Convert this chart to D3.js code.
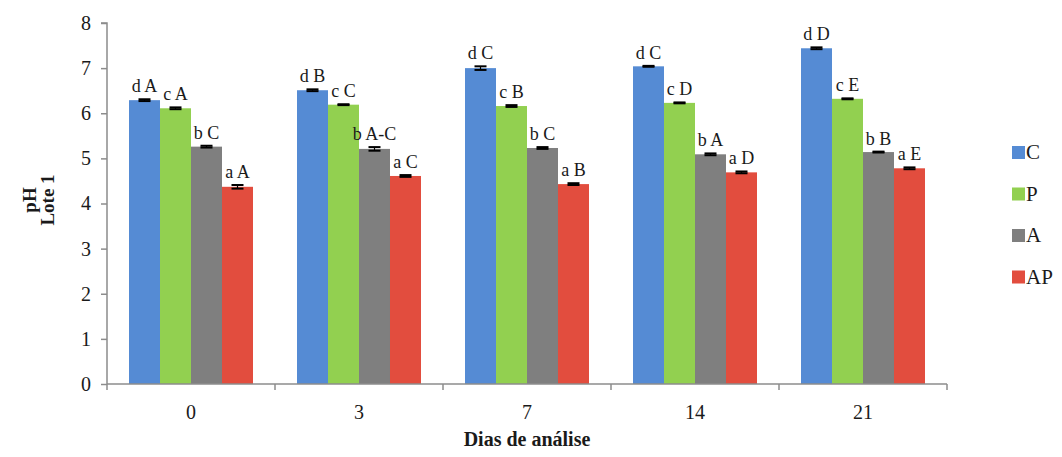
<!DOCTYPE html>
<html>
<head>
<meta charset="utf-8">
<script src="https://cdn.jsdelivr.net/npm/d3@7"></script>
<style>
  html, body { margin: 0; padding: 0; background: #fff; }
  svg { display: block; }
  svg text { font-family: "Liberation Serif", "Times New Roman", serif; }
</style>
</head>
<body>
<svg id="chart" width="1062" height="457"></svg>
<script>
// Days of analysis (x categories) and treatment series
const days = ["0", "3", "7", "14", "21"];
const series = ["C", "P", "A", "AP"];
const colors = ["#558bd4", "#92d050", "#7f7f7f", "#e24d3e"];

// pH means per series, one value per day
const valuesC  = [6.29, 6.51, 7.00, 7.04, 7.44];
const valuesP  = [6.11, 6.19, 6.16, 6.23, 6.32];
const valuesA  = [5.26, 5.21, 5.23, 5.09, 5.14];
const valuesAP = [4.37, 4.61, 4.43, 4.69, 4.78];

// standard deviations
const errC  = [0.02, 0.02, 0.04, 0.01, 0.02];
const errP  = [0.02, 0.01, 0.02, 0.01, 0.01];
const errA  = [0.02, 0.04, 0.02, 0.02, 0.01];
const errAP = [0.04, 0.02, 0.02, 0.02, 0.02];

// significance letters
const lettersC  = ["d A", "d B", "d C", "d C", "d D"];
const lettersP  = ["c A", "c C", "c B", "c D", "c E"];
const lettersA  = ["b C", "b A-C", "b C", "b A", "b B"];
const lettersAP = ["a A", "a C", "a B", "a D", "a E"];

const yTicks = [0, 1, 2, 3, 4, 5, 6, 7, 8];

const values = [valuesC, valuesP, valuesA, valuesAP];
const errs = [errC, errP, errA, errAP];
const letters = [lettersC, lettersP, lettersA, lettersAP];

const svg = d3.select("#chart");
const plot = { left: 107, right: 947, top: 23, bottom: 384 };

const x = d3.scaleBand().domain(days).range([plot.left, plot.right]).paddingInner(0).paddingOuter(0);
const xInner = d3.scaleBand().domain(series).range([0, x.bandwidth()]).paddingOuter(0.71).paddingInner(0);
const y = d3.scaleLinear().domain([0, 8]).range([plot.bottom, plot.top]);

const axisColor = "#8c8c8c";
const textColor = "#1a1a1a";

// bars
series.forEach((s, si) => {
  const g = svg.append("g");
  days.forEach((d, di) => {
    const v = values[si][di];
    const bx = x(d) + xInner(s);
    const bw = xInner.bandwidth();
    g.append("rect")
      .attr("x", bx).attr("y", y(v))
      .attr("width", bw).attr("height", y(0) - y(v))
      .attr("fill", colors[si]);
    // error bar
    const cx = bx + bw / 2;
    const e = errs[si][di];
    const cap = 6;
    g.append("line").attr("x1", cx).attr("x2", cx)
      .attr("y1", y(v + e)).attr("y2", y(v - e))
      .attr("stroke", "#000").attr("stroke-width", 1.2);
    [v + e, v - e].forEach(t => {
      g.append("line").attr("x1", cx - cap).attr("x2", cx + cap)
        .attr("y1", y(t)).attr("y2", y(t))
        .attr("stroke", "#000").attr("stroke-width", 2);
    });
    // letters
    g.append("text")
      .attr("x", cx).attr("y", y(v + e) - 7)
      .attr("text-anchor", "middle")
      .attr("font-size", 18)
      .attr("fill", textColor)
      .text(letters[si][di]);
  });
});

// y axis
const yAxis = svg.append("g")
  .attr("transform", `translate(${plot.left},0)`)
  .call(d3.axisLeft(y).tickValues(yTicks).tickSize(6).tickPadding(10).tickFormat(d3.format("d")));
yAxis.attr("font-family", null);
yAxis.select(".domain").attr("stroke", axisColor).attr("stroke-width", 1.5).attr("d", `M-6,${plot.top}H0V${plot.bottom}`);
yAxis.selectAll(".tick line").attr("stroke", axisColor).attr("stroke-width", 1.5);
yAxis.selectAll(".tick text").attr("font-size", 20).attr("fill", textColor);

// x axis with category boundary ticks
const xAxisG = svg.append("g").attr("transform", `translate(0,${plot.bottom})`);
xAxisG.append("line").attr("x1", plot.left).attr("x2", plot.right)
  .attr("stroke", axisColor).attr("stroke-width", 1.5);
const boundaries = days.map(d => x(d)).concat([x(days[days.length - 1]) + x.bandwidth()]);
xAxisG.selectAll(".bt").data(boundaries).enter().append("line")
  .attr("x1", d => d).attr("x2", d => d).attr("y1", 0).attr("y2", 6)
  .attr("stroke", axisColor).attr("stroke-width", 1.5);
xAxisG.selectAll(".lbl").data(days).enter().append("text")
  .attr("x", d => x(d) + x.bandwidth() / 2)
  .attr("y", 35)
  .attr("text-anchor", "middle")
  .attr("font-size", 20)
  .attr("fill", textColor)
  .text(d => d);

// axis titles
svg.append("text")
  .attr("x", 527).attr("y", 446)
  .attr("text-anchor", "middle")
  .attr("font-size", 20).attr("font-weight", "bold")
  .attr("fill", textColor)
  .text("Dias de análise");

const yTitle = svg.append("text")
  .attr("transform", "translate(0,200) rotate(-90)")
  .attr("text-anchor", "middle")
  .attr("font-size", 19).attr("font-weight", "bold")
  .attr("fill", textColor);
yTitle.append("tspan").attr("x", 0).attr("y", 36).text("pH");
yTitle.append("tspan").attr("x", 0).attr("y", 54).text("Lote 1");

// legend
const legend = svg.append("g").attr("transform", "translate(1012,146)");
series.forEach((s, i) => {
  const row = legend.append("g").attr("transform", `translate(0,${i * 41.5})`);
  row.append("rect").attr("x", 0).attr("y", 0).attr("width", 13).attr("height", 13).attr("fill", colors[i]);
  row.append("text").attr("x", 14).attr("y", 13)
    .attr("font-size", 21).attr("fill", textColor)
    .text(s);
});
</script>
</body>
</html>
